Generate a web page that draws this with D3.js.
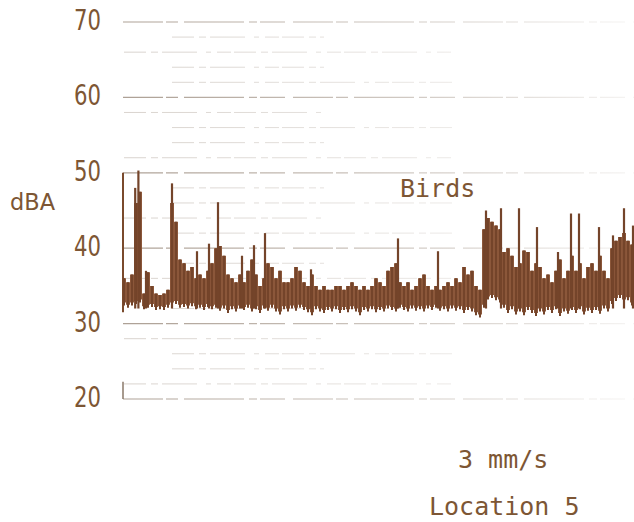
<!DOCTYPE html>
<html lang="en">
<head>
<meta charset="UTF-8">
<title>Location 5 - dBA strip chart</title>
<script src="https://d3js.org/d3.v7.min.js"></script>
<style>
  body { margin: 0; background: white; }
  svg { display: block; }
  .lbl { fill: #7d5634; font-family: "DejaVu Sans", sans-serif; }
  .mono { fill: #7d5634; font-family: "DejaVu Sans Mono", monospace; }
</style>
</head>
<body>
<svg id="chart" width="634" height="522"></svg>
<script>
// tick labels (dBA)
const majorTicks = [20, 30, 40, 50, 60, 70];
const minorTicks = [22, 24, 26, 28, 32, 34, 36, 38, 42, 44, 46, 48, 52, 54, 56, 58, 62, 64, 66, 68];

// band envelope of the pen trace, one value per 4 px of chart paper (dBA)
const bandHigh = [
  36, 35.5, 36.5, 46, 47.5, 34, 36.8, 35, 34, 33.8, 34, 34.5, 46, 43.5, 38.5, 38,
  37, 37.5, 36, 36.5, 36, 37, 38, 40, 40.3, 39, 36.5, 36, 35.5, 36.5, 35.5, 37,
  38.5, 36.5, 35, 36, 38, 37.5, 36, 37, 35.5, 35.5, 36, 37.5, 37, 35.5, 35, 36.5,
  35, 34.5, 35, 34.5, 34.5, 35, 35, 34.5, 35, 35.5, 35, 34.5, 35, 34.5, 35, 36,
  35.5, 35, 37, 37.5, 38, 35.5, 35, 35.5, 34.5, 35, 36, 36.5, 35, 34.5, 35, 34.5,
  35, 35.5, 35, 36, 35.5, 37.5, 36.5, 37, 35, 34.5, 42.5, 44, 43.5, 43, 42.5, 39.5,
  40, 39, 37.5, 38, 39.7, 39.5, 37, 38, 37.5, 36, 36.5, 35.5, 37, 38.5, 36, 37,
  39, 37, 38, 36, 37.5, 38, 37, 39, 37, 36, 40, 41, 41.5, 42, 41, 40.5
];
const bandLow = [
  32.8, 32.5, 32.8, 33, 33.2, 32.3, 32.5, 32.6, 32.2, 32.3, 32.2, 32.5, 32.8, 33, 32.5, 32.6,
  32.4, 32.7, 32.3, 32.5, 32.2, 32.6, 32.3, 32.5, 32.1, 32.4, 31.8, 32.3, 32, 32.4, 32.2, 32.5,
  32, 32.3, 31.8, 32.4, 32.1, 32.5, 32, 31.6, 32.3, 32, 32.4, 32.1, 32.5, 32.2, 31.9, 31.5,
  32.3, 32, 31.8, 32.2, 32, 32.3, 31.8, 32.2, 31.9, 32.3, 32, 31.5, 32.2, 32, 32.3, 31.9,
  32.2, 32, 32.4, 32.2, 32, 32.5, 32.2, 32, 32.4, 32.1, 32.3, 32, 32.4, 32.2, 32.5, 32.1,
  32.3, 32, 32.4, 32.1, 32.3, 31.8, 32.2, 32, 31.5, 31.2, 32.5, 33.6, 33.8, 33.5, 33.2, 32.5,
  31.8, 32.3, 31.6, 32, 31.5, 32.2, 31.8, 31.4, 32, 31.6, 32.2, 31.8, 32.3, 31.4, 32, 31.7,
  32.2, 31.8, 32.3, 31.6, 32.1, 31.8, 32.2, 31.7, 32.4, 32, 33, 33.4, 33.8, 33.2, 33.5, 32.8
];

// isolated pen spikes: position (same 4 px units) and peak level
const spikeTime = [2.8, 3.6, 5.5, 12, 18.25, 21.25, 23.5, 29.5, 32.5, 35.25, 46.75, 68.5, 78.5,
  90.5, 94.25, 98.75, 103.25, 108.5, 111.75, 113.75, 118.75, 122.25, 125, 127.25];
const spikeTop = [48, 50.3, 37, 48.6, 39.6, 40.6, 46.1, 39, 40.4, 42, 37.2, 41.3, 39.6,
  45, 45.3, 45.3, 42.8, 39.5, 44.6, 44.6, 42.8, 41.7, 45.3, 43];

const svg = d3.select("#chart");
const x = d3.scaleLinear().domain([0, bandHigh.length - 1]).range([124, 632]);
const y = d3.scaleLinear().domain([20, 70]).range([399, 22]);

// fading chart paper grid
const defs = svg.append("defs");
const grad = defs.append("linearGradient").attr("id", "fade")
  .attr("gradientUnits", "userSpaceOnUse")
  .attr("x1", 123).attr("x2", 634).attr("y1", 0).attr("y2", 0);
grad.append("stop").attr("offset", 0).attr("stop-color", "#8a7868").attr("stop-opacity", 0.7);
grad.append("stop").attr("offset", 0.55).attr("stop-color", "#8a7868").attr("stop-opacity", 0.4);
grad.append("stop").attr("offset", 1).attr("stop-color", "#8a7868").attr("stop-opacity", 0.08);

svg.append("g").selectAll("line")
  .data(minorTicks)
  .join("line")
  .attr("x1", (d, i) => x(i % 3 === 0 ? 0 : 12))
  .attr("x2", (d, i) => x(i % 2 === 0 ? 82 : 50))
  .attr("y1", d => y(d))
  .attr("y2", d => y(d))
  .attr("stroke", "url(#fade)")
  .attr("stroke-width", 1)
  .attr("stroke-dasharray", "22,5,7,4,35,9,5,6,14,3")
  .attr("opacity", 0.45);

svg.append("g").selectAll("line")
  .data(majorTicks)
  .join("line")
  .attr("x1", x(0) - 1)
  .attr("x2", 634)
  .attr("y1", d => y(d))
  .attr("y2", d => y(d))
  .attr("stroke", "url(#fade)")
  .attr("stroke-width", 1.2)
  .attr("stroke-dasharray", "40,3,12,6,60,5,8,3,25,8");

// left edge of the trace
svg.append("line")
  .attr("x1", x(0) - 1).attr("x2", x(0) - 1)
  .attr("y1", y(50)).attr("y2", y(31.5))
  .attr("stroke", "#7a4a2c").attr("stroke-width", 2);
svg.append("line")
  .attr("x1", x(0) - 1).attr("x2", x(0) - 1)
  .attr("y1", y(22.3)).attr("y2", y(20))
  .attr("stroke", "#8a7868").attr("stroke-width", 1.5);

// trace band
const band = bandHigh.map((h, i) => ({ t: i, hi: h, lo: bandLow[i] }));
svg.append("path")
  .datum(band)
  .attr("fill", "#8b573a")
  .attr("d", d3.area().curve(d3.curveStep).x(d => x(d.t)).y0(d => y(d.lo)).y1(d => y(d.hi)));

// pen strokes over the band
svg.append("g").selectAll("line")
  .data(band)
  .join("line")
  .attr("x1", d => x(d.t)).attr("x2", d => x(d.t))
  .attr("y1", d => y(d.lo - 0.4)).attr("y2", d => y(d.hi))
  .attr("stroke", "#74442a")
  .attr("stroke-width", 2);

// spikes
svg.append("g").selectAll("line")
  .data(spikeTime.map((t, i) => ({ t, top: spikeTop[i] })))
  .join("line")
  .attr("x1", d => x(d.t)).attr("x2", d => x(d.t))
  .attr("y1", y(32)).attr("y2", d => y(d.top))
  .attr("stroke", "#74442a")
  .attr("stroke-width", 2.2);

// axis labels
svg.append("g").selectAll("text")
  .data(majorTicks)
  .join("text")
  .attr("class", "lbl")
  .attr("x", 101)
  .attr("y", d => y(d) + 8)
  .attr("text-anchor", "end")
  .attr("textLength", 27)
  .attr("lengthAdjust", "spacingAndGlyphs")
  .style("font-size", "28px")
  .text(d => d);

svg.append("text").attr("class", "lbl")
  .attr("x", 10).attr("y", 210)
  .attr("textLength", 45)
  .attr("lengthAdjust", "spacingAndGlyphs")
  .style("font-size", "23px")
  .text("dBA");

svg.append("text").attr("class", "mono")
  .attr("x", 400).attr("y", 197)
  .style("font-size", "25px")
  .text("Birds");
svg.append("text").attr("class", "mono")
  .attr("x", 458).attr("y", 468)
  .style("font-size", "25px")
  .text("3 mm/s");
svg.append("text").attr("class", "mono")
  .attr("x", 429).attr("y", 515)
  .style("font-size", "25px")
  .text("Location 5");
</script>
</body>
</html>
